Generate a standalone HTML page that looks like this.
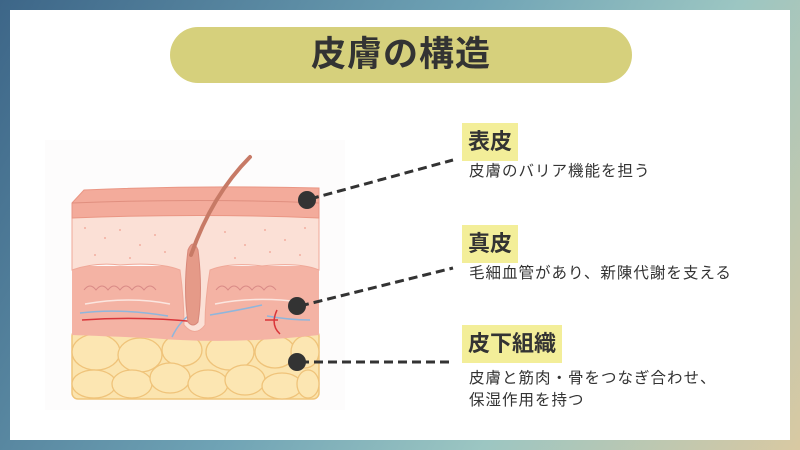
<!DOCTYPE html>
<html><head><meta charset="utf-8"><style>
html,body{margin:0;padding:0}
body{width:800px;height:450px;position:relative;overflow:hidden;background:linear-gradient(120deg,#3d6688 0%,#6fa3b5 45%,#9cc6c2 70%,#d9c9a2 100%);font-family:"Liberation Sans","Noto Sans CJK JP",sans-serif;}
.panel{position:absolute;left:10px;top:10px;width:780px;height:430px;background:#fff;}
.title{position:absolute;left:170px;top:27px;width:462px;height:56px;border-radius:28px;background:#d6d07c;color:#333;font-size:35px;font-weight:bold;text-align:center;line-height:56px;letter-spacing:1px}
.tag{position:absolute;background:#f3ee99;color:#333;font-size:22px;font-weight:bold;height:38px;line-height:38px;padding:0 6px}
.desc{position:absolute;color:#333;font-size:15.5px;line-height:22px;letter-spacing:1px}
</style></head><body>
<div class="panel"></div>
<div class="title">皮膚の構造</div>
<svg width="800" height="450" style="position:absolute;left:0;top:0">
<rect x="45" y="140" width="300" height="270" fill="#fdfcfc"/>
<!-- fat layer -->
<rect x="72" y="330" width="247" height="69" rx="6" fill="#fbe4ae" stroke="#f0c57a" stroke-width="1.5"/>
<g fill="#fce6b2" stroke="#efc37a" stroke-width="1.3">
<ellipse cx="96" cy="352" rx="24" ry="18"/><ellipse cx="140" cy="355" rx="22" ry="17"/><ellipse cx="182" cy="350" rx="20" ry="16"/><ellipse cx="230" cy="352" rx="24" ry="18"/><ellipse cx="275" cy="352" rx="20" ry="16"/><ellipse cx="305" cy="352" rx="14" ry="16"/>
<ellipse cx="94" cy="384" rx="22" ry="14"/><ellipse cx="132" cy="384" rx="20" ry="14"/><ellipse cx="170" cy="378" rx="20" ry="15"/><ellipse cx="208" cy="384" rx="20" ry="14"/><ellipse cx="245" cy="380" rx="20" ry="15"/><ellipse cx="282" cy="386" rx="20" ry="13"/><ellipse cx="308" cy="384" rx="11" ry="14"/>
</g>
<!-- dermis bg -->
<path d="M72 266 L319 266 L319 335 Q230 345 150 338 Q100 336 72 335 Z" fill="#f4b3a4"/>
<!-- light layer with follicle sheath -->
<path d="M72 215 L319 215 L319 270 Q300 262 262 266 Q230 262 210 270 Q205 300 205 325 Q195 338 184 325 Q184 300 180 270 Q160 262 120 265 Q95 262 72 270 Z" fill="#fbe0d6" stroke="#efa898" stroke-width="1"/>
<g fill="#f1aea0"><circle cx="85" cy="228" r="1"/><circle cx="105" cy="238" r="1"/><circle cx="120" cy="230" r="1"/><circle cx="140" cy="245" r="1"/><circle cx="155" cy="235" r="1"/><circle cx="95" cy="255" r="1"/><circle cx="130" cy="258" r="1"/><circle cx="165" cy="252" r="1"/><circle cx="225" cy="232" r="1"/><circle cx="245" cy="245" r="1"/><circle cx="265" cy="230" r="1"/><circle cx="285" cy="240" r="1"/><circle cx="300" cy="255" r="1"/><circle cx="235" cy="258" r="1"/><circle cx="270" cy="252" r="1"/><circle cx="305" cy="228" r="1"/></g>
<path d="M84 290 q6 -8 12 0 q6 -8 12 0 q6 -8 12 0 q6 -8 12 0 q6 -8 12 0 q6 -8 12 0 M216 290 q6 -8 12 0 q6 -8 12 0 q6 -8 12 0 q6 -8 12 0 q6 -8 12 0" fill="none" stroke="#d98a86" stroke-width="1"/>
<path d="M85 304 Q130 296 170 304 M215 304 Q255 296 300 302" fill="none" stroke="#fbe6e0" stroke-width="1.5"/>
<path d="M80 313 Q120 308 168 316 M210 315 Q240 310 262 305 M267 316 Q290 320 310 320 M172 337 Q180 320 194 312" fill="none" stroke="#8fb6dc" stroke-width="1.5"/>
<path d="M82 320 Q140 316 198 322 M265 320 L278 320 M277 310 Q270 325 280 334" fill="none" stroke="#d9363a" stroke-width="1.5"/>
<!-- follicle inner -->
<path d="M188 322 Q183 290 188 250 Q193 238 198 250 Q203 290 198 322 Q193 328 188 322 Z" fill="#e59a88" stroke="#d8887a" stroke-width="1"/>
<!-- top epidermis -->
<path d="M72 203 L84 190 Q200 185 319 188 L319 218 Q200 213 72 218 Z" fill="#f3ab9b" stroke="#ea9684" stroke-width="1"/>
<path d="M72 203 Q200 198 319 203" fill="none" stroke="#e08f7f" stroke-width="1"/>
<path d="M191 255 Q212 195 250 157" fill="none" stroke="#c77a66" stroke-width="4" stroke-linecap="round"/>
<!-- connectors -->
<g stroke="#333" stroke-width="3" stroke-dasharray="9,5" fill="none">
<line x1="310" y1="199" x2="453" y2="160"/>
<line x1="300" y1="306" x2="453" y2="268"/>
<line x1="300" y1="362" x2="453" y2="362"/>
</g>
<g fill="#333"><circle cx="307" cy="200" r="9"/><circle cx="297" cy="306" r="9"/><circle cx="297" cy="362" r="9"/></g>
</svg>
<div class="tag" style="left:462px;top:123px">表皮</div>
<div class="desc" style="left:469px;top:161px">皮膚のバリア機能を担う</div>
<div class="tag" style="left:462px;top:225px">真皮</div>
<div class="desc" style="left:469px;top:263px">毛細血管があり、新陳代謝を支える</div>
<div class="tag" style="left:462px;top:325px">皮下組織</div>
<div class="desc" style="left:469px;top:368px">皮膚と筋肉・骨をつなぎ合わせ、<br>保湿作用を持つ</div>
</body></html>
